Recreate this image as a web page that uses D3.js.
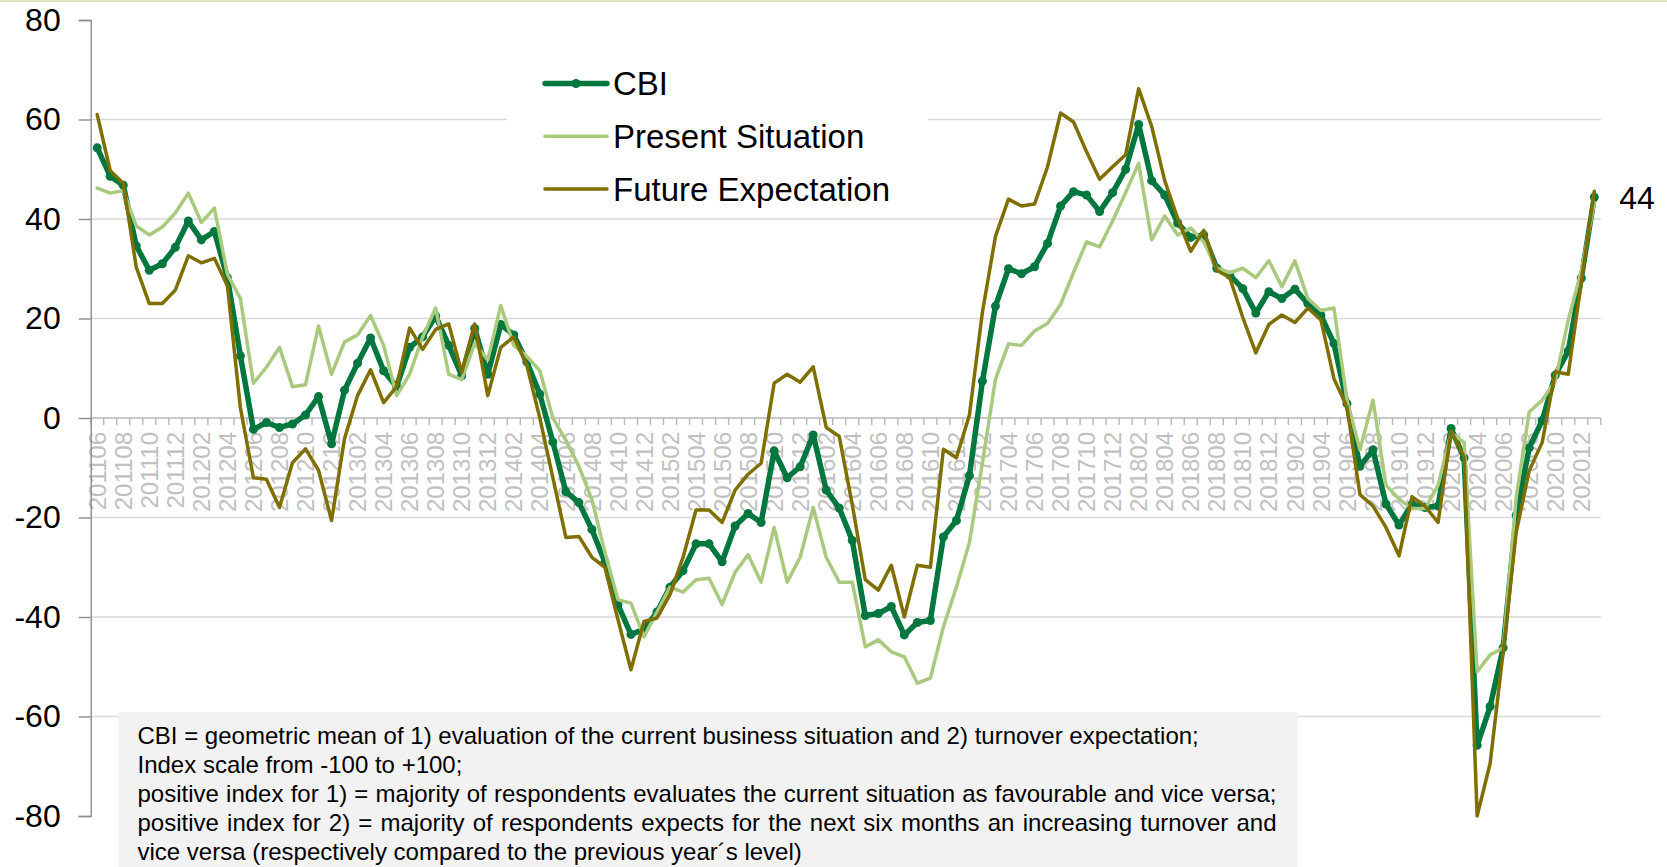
<!DOCTYPE html>
<html>
<head>
<meta charset="utf-8">
<script src="https://cdn.jsdelivr.net/npm/d3@7"></script>
<style>
  html, body { margin: 0; padding: 0; background: #fff; }
  #chart { width: 1667px; height: 867px; }
</style>
</head>
<body>
<div id="chart"></div>
<script>
// data, monthly from 201106 to 202101
const firstMonth = new Date(2011, 5, 1);
const lastMonth = new Date(2021, 0, 1);

const cbi = [
  54.3, 48.6, 46.8, 34.6, 29.7, 31, 34.3, // 2011
  39.6, 35.8, 37.5, 28.2, 12.5, -2.3, -0.9, -1.9, -1.2, 0.6, 4.3, -5.2,
  5.6, 11, 16.1, 9.5, 6.3, 14.2, 16.3, 20.5, 14.6, 8.5, 18, 8.8,
  18.8, 16.7, 11.3, 4.8, -4.8, -14.8, -17, -22.4, -29, -37.5, -43.5, -42.5,
  -39, -34, -30.7, -25.3, -25.3, -28.9, -21.7, -19.2, -21, -6.6, -12, -9.8,
  -3.4, -14.5, -18.1, -24.6, -39.7, -39.3, -37.9, -43.6, -41.1, -40.7, -23.9, -20.6,
  -11.6, 7.4, 22.5, 30, 29, 30.4, 35.1, 42.6, 45.5, 44.8, 41.5, 45.3,
  50, 59, 47.7, 44.8, 39.2, 36.3, 36.8, 30.1, 28.7, 26, 21.1, 25.4,
  24, 25.9, 23, 20.6, 15, 2.9, -9.7, -6.4, -17.3, -21.5, -17.3, -18,
  -17.7, -2.1, -8, -65.8, -58, -46.2, -19.6, -6, -0.5, 8.6, 13.5, 28.1,
  44.4 // 2021
];

const presentSituation = [
  46.2, 45.2, 45.7, 38.6, 36.8, 38.4, 41.2,
  45.2, 39.3, 42.2, 28.9, 24, 7, 10.2, 14.2, 6.3, 6.7, 18.5, 8.8,
  15.3, 16.7, 20.6, 14.6, 4.5, 8.8, 16.3, 22.1, 8.8, 7.7, 15, 11.7,
  22.6, 14.6, 12.4, 9.5, 0, -4.5, -9.7, -16.4, -27, -36.5, -37.2, -44,
  -39, -34, -35, -32.5, -32.2, -37.5, -31, -27.5, -33, -22, -33, -28,
  -18, -28, -33, -33, -46, -44.6, -47, -48, -53.3, -52.3, -42, -34,
  -25, -9, 7.8, 14.9, 14.6, 17.5, 19, 22.8, 29.3, 35.4, 34.4, 39.6,
  45.3, 51.2, 35.8, 40.6, 36.8, 38.2, 35.4, 30.1, 29.2, 30.1, 28.2, 31.6,
  26.4, 31.6, 24, 21.6, 22.1, 3.6, -6.4, 3.6, -13.5, -16.3, -18.2, -18.2,
  -13.5, -3, -4.9, -51, -47.6, -46.2, -16, 1.2, 3.6, 7.4, 19.7, 29.5,
  43.3
];

const futureExpectation = [
  61, 49.7, 47.2, 30.3, 23, 23, 25.7,
  32.6, 31.2, 32.1, 26.6, 2, -12, -12.3, -18, -9, -6.2, -10.5, -20.6,
  -4.1, 4.5, 9.7, 3.1, 6.3, 18.1, 13.8, 17.8, 18.9, 9.2, 18.9, 4.5,
  14.2, 16.3, 10.6, 0, -12, -24, -23.8, -28, -30, -40.5, -50.6, -40.9,
  -40.2, -35.5, -28, -18.5, -18.5, -21, -14.5, -11.3, -9.1, 7, 8.8, 7.2,
  10.3, -1.9, -3.7, -17.4, -32.5, -34.6, -29.6, -40, -29.6, -30, -6.3, -8,
  0.6, 21.3, 36.5, 44, 42.6, 43, 50.5, 61.3, 59.5, 53.5, 48, 50.5,
  52.9, 66.2, 58.6, 47.7, 40.1, 33.5, 37.7, 29.7, 28.2, 20.2, 13.1, 18.8,
  20.7, 19.2, 22.1, 19.7, 7.9, 2.2, -15.4, -17.7, -22, -27.7, -15.8, -17.7,
  -21, -2.6, -7.8, -80, -69.4, -47, -23, -10.6, -4.9, 9.3, 8.8, 27.3,
  45.6
];

const yTicks = [-80, -60, -40, -20, 0, 20, 40, 60, 80];
const seriesNames = ['CBI', 'Present Situation', 'Future Expectation'];
const noteLines = [
  'CBI = geometric mean of 1) evaluation of the current business situation and 2) turnover expectation;',
  'Index scale from -100 to +100;',
  'positive index for 1) = majority of respondents evaluates the current situation as favourable and vice versa;',
  'positive index for 2) = majority of respondents expects for the next six months an increasing turnover and',
  'vice versa (respectively compared to the previous year\u00b4s level)'
];

// painter
const CbiChart = {};
const init = {};

CbiChart.option = () => ({
  width: 1667,
  height: 867,
  left: 90.7,
  right: 1600.8,
  top: 20,
  bottom: 816,
  font: '\'Liberation Sans\', Arial, sans-serif',
  colors: ['#00773f', '#a9c97d', '#7f6f00']
});

CbiChart.paint = (container) => {
  const option = CbiChart.option();
  const months = d3.timeMonth.range(firstMonth, d3.timeMonth.offset(lastMonth, 1))
      .map(d3.timeFormat('%Y%m'));
  const x = d3.scalePoint().domain(months)
      .range([option.left, option.right]).padding(0.5);
  const y = d3.scaleLinear().domain([-80, 80])
      .range([option.bottom, option.top]);

  const svg = d3.select(container).append('svg')
      .attr('width', option.width)
      .attr('height', option.height)
      .attr('viewBox', [0, 0, option.width, option.height])
      .style('font-family', option.font);

  svg.append('line')
      .attr('x1', 0).attr('x2', option.width)
      .attr('y1', 1).attr('y2', 1)
      .attr('stroke', '#d7e4bd').attr('stroke-width', 2);

  init.grid(svg, option, y);
  init.xAxis(svg, option, x, y, months);
  init.yAxis(svg, option, y);
  init.legend(svg, option);

  const series = [cbi, presentSituation, futureExpectation];
  const widths = [5.5, 3.5, 3.5];
  series.forEach((values, k) => {
    const line = d3.line()
        .x((d, i) => x(months[i]))
        .y((d) => y(d));
    svg.append('path')
        .datum(values)
        .attr('fill', 'none')
        .attr('stroke', option.colors[k])
        .attr('stroke-width', widths[k])
        .attr('stroke-linejoin', 'round')
        .attr('stroke-linecap', 'round')
        .attr('d', line);
    if (k === 0) {
      svg.append('g')
          .selectAll('circle')
          .data(values)
          .join('circle')
          .attr('cx', (d, i) => x(months[i]))
          .attr('cy', (d) => y(d))
          .attr('r', 4.5)
          .attr('fill', option.colors[0]);
    }
  });

  // value label at the last point
  const last = cbi.length - 1;
  svg.append('text')
      .attr('x', x(months[last]) + 25)
      .attr('y', y(cbi[last]))
      .attr('dy', '0.36em')
      .attr('font-size', 32)
      .attr('fill', '#000')
      .text(Math.round(cbi[last]));

  init.note(svg);
};

init.grid = (svg, option, y) => {
  svg.append('g')
      .selectAll('line')
      .data(yTicks.filter((d) => d !== 0 && Math.abs(d) !== 80))
      .join('line')
      .attr('x1', option.left)
      .attr('x2', option.right)
      .attr('y1', (d) => y(d))
      .attr('y2', (d) => y(d))
      .attr('stroke', '#d9d9d9')
      .attr('stroke-width', 1.4);
};

init.xAxis = (svg, option, x, y, months) => {
  const step = x.step();
  const y0 = y(0);
  const g = svg.append('g');

  g.selectAll('text')
      .data(months.filter((d, i) => i % 2 === 0))
      .join('text')
      .attr('transform', (d) => `translate(${x(d)},${y0 + 14}) rotate(-90)`)
      .attr('text-anchor', 'end')
      .attr('dy', '0.36em')
      .attr('font-size', 24)
      .attr('fill', '#c0c0c0')
      .text((d) => d);

  g.append('line')
      .attr('x1', option.left).attr('x2', option.right)
      .attr('y1', y0).attr('y2', y0)
      .attr('stroke', '#b7b7b7').attr('stroke-width', 1.4);

  g.selectAll('line.tick')
      .data(d3.range(months.length + 1))
      .join('line')
      .attr('class', 'tick')
      .attr('x1', (i) => option.left + i * step)
      .attr('x2', (i) => option.left + i * step)
      .attr('y1', y0).attr('y2', y0 + 7)
      .attr('stroke', '#b7b7b7').attr('stroke-width', 1.4);
};

init.yAxis = (svg, option, y) => {
  const axis = d3.axisLeft(y)
      .tickValues(yTicks)
      .tickSize(12)
      .tickPadding(18)
      .tickFormat((d) => String(d));
  const g = svg.append('g')
      .attr('transform', `translate(${option.left},0)`)
      .call(axis);
  g.select('.domain').attr('stroke', '#8c8c8c').attr('stroke-width', 1.4);
  g.selectAll('.tick line').attr('stroke', '#8c8c8c').attr('stroke-width', 1.4);
  g.selectAll('.tick text')
      .attr('font-size', 32)
      .attr('font-family', option.font)
      .attr('fill', '#000');
};

init.legend = (svg, option) => {
  const g = svg.append('g');
  g.append('rect')
      .attr('x', 507).attr('y', 50)
      .attr('width', 421).attr('height', 158)
      .attr('fill', '#fff');
  const items = g.selectAll('g')
      .data(seriesNames)
      .join('g')
      .attr('transform', (d, i) => `translate(545,${83.5 + i * 52.8})`);
  items.append('line')
      .attr('x1', 0).attr('x2', 62)
      .attr('stroke', (d, i) => option.colors[i])
      .attr('stroke-width', (d, i) => i === 0 ? 5.5 : 3.5)
      .attr('stroke-linecap', 'round');
  items.filter((d, i) => i === 0)
      .append('circle')
      .attr('cx', 31).attr('r', 4.5)
      .attr('fill', option.colors[0]);
  items.append('text')
      .attr('x', 68)
      .attr('dy', '0.36em')
      .attr('font-size', 33)
      .attr('fill', '#000')
      .text((d) => d);
};

init.note = (svg) => {
  const g = svg.append('g');
  g.append('rect')
      .attr('x', 118).attr('y', 712)
      .attr('width', 1180).attr('height', 160)
      .attr('fill', '#f2f2f2');
  const texts = g.selectAll('text')
      .data(noteLines)
      .join('text')
      .attr('x', 137.5)
      .attr('y', (d, i) => 744 + i * 29)
      .attr('font-size', 24)
      .attr('fill', '#000')
      .text((d) => d);
  // lines 3 and 4 are justified to the same right edge
  const justifyWidth = 1139;
  texts.filter((d, i) => i === 2 || i === 3)
      .each(function(d) {
        const spaces = d.split(' ').length - 1;
        const extra = justifyWidth - this.getComputedTextLength();
        if (extra > 0) d3.select(this).style('word-spacing', `${extra / spaces}px`);
      });
};

CbiChart.paint(document.getElementById('chart'));
</script>
</body>
</html>
